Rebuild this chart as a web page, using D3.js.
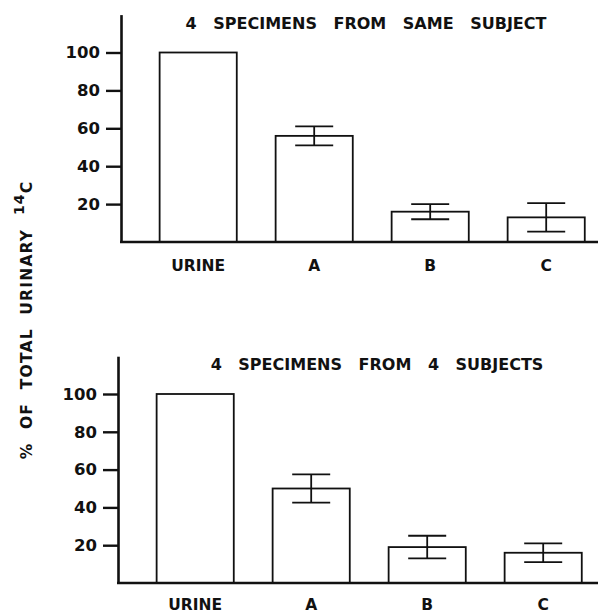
<!DOCTYPE html>
<html>
<head>
<meta charset="utf-8">
<script src="https://cdn.jsdelivr.net/npm/d3@7"></script>
<style>
  body { margin: 0; background: #fff; }
  svg text { font-family: "DejaVu Sans", sans-serif; font-weight: bold; fill: #111; }
</style>
</head>
<body>
<div id="chart"></div>
<script>
// Categories and values
const categories = ["URINE", "A", "B", "C"];
const yTicks = [20, 40, 60, 80, 100];

// Panel 1: 4 specimens from same subject
const sameMeans = [100, 56, 16, 13];
const sameErrs = [0, 5, 4, 7.5];

// Panel 2: 4 specimens from 4 subjects
const subjMeans = [100, 50, 19, 16];
const subjErrs = [0, 7.5, 6, 5];

const width = 598, height = 614;

const svg = d3.select("#chart")
  .append("svg")
    .attr("width", width)
    .attr("height", height)
    .attr("viewBox", [0, 0, width, height]);

/* Draw one panel */
const drawPanel = (opts) => {
  const { means, errs, title, left, y0, y100, titleX, titleY, labelY } = opts;

  const xScale = d3.scaleBand()
    .domain(categories)
    .range([left, left + 116 * (4 - 0.335 + 0.666)])
    .paddingInner(0.335)
    .paddingOuter(0.333);

  const yScale = d3.scaleLinear()
    .domain([0, 100])
    .range([y0, y100]);

  const g = svg.append("g");

  // bars
  g.append("g")
    .selectAll("rect")
    .data(means)
    .join("rect")
      .attr("x", (d, i) => xScale(categories[i]))
      .attr("y", d => yScale(d))
      .attr("width", xScale.bandwidth())
      .attr("height", d => yScale(0) - yScale(d))
      .attr("fill", "white")
      .attr("stroke", "#111")
      .attr("stroke-width", 1.8);

  // error bars
  const capW = 19;
  const eb = g.append("g")
    .attr("stroke", "#111")
    .attr("stroke-width", 1.8)
    .selectAll("g")
    .data(means.map((m, i) => ({ m, e: errs[i], c: categories[i] })).filter(d => d.e > 0))
    .join("g")
      .attr("transform", d => `translate(${xScale(d.c) + xScale.bandwidth() / 2},0)`);

  eb.append("line")
    .attr("y1", d => yScale(d.m - d.e))
    .attr("y2", d => yScale(d.m + d.e));
  eb.append("line")
    .attr("x1", -capW).attr("x2", capW)
    .attr("y1", d => yScale(d.m + d.e))
    .attr("y2", d => yScale(d.m + d.e));
  eb.append("line")
    .attr("x1", -capW).attr("x2", capW)
    .attr("y1", d => yScale(d.m - d.e))
    .attr("y2", d => yScale(d.m - d.e));

  // y axis (extends up to ~120)
  const yAxisScale = yScale.copy().domain([0, 120]).range([y0, yScale(120)]);
  const yAxis = d3.axisLeft(yAxisScale)
    .tickValues(yTicks)
    .tickSize(15)
    .tickSizeOuter(0)
    .tickPadding(6);

  const yg = g.append("g")
    .attr("transform", `translate(${left},0)`)
    .call(yAxis);
  yg.select(".domain").attr("stroke-width", 2.6).attr("stroke", "#111");
  yg.selectAll(".tick line").attr("stroke-width", 2.4).attr("stroke", "#111");
  yg.selectAll(".tick text")
    .attr("font-size", 16.5)
    .attr("font-family", "DejaVu Sans")
    .attr("font-weight", "bold")
    .attr("fill", "#111");

  // x axis
  const xAxis = d3.axisBottom(xScale).tickSize(0).tickPadding(0);
  const xg = g.append("g")
    .attr("transform", `translate(0,${y0})`)
    .call(xAxis);
  xg.select(".domain").attr("stroke-width", 2.6).attr("stroke", "#111")
    .attr("d", `M${left - 1},0H${width}`);
  xg.selectAll(".tick text")
    .attr("y", labelY - y0)
    .attr("dy", 0)
    .attr("font-size", 15.5)
    .attr("font-family", "DejaVu Sans")
    .attr("font-weight", "bold")
    .attr("fill", "#111");

  // title
  g.append("text")
    .attr("x", titleX)
    .attr("y", titleY)
    .attr("text-anchor", "middle")
    .attr("font-size", 16)
    .attr("word-spacing", 11)
    .text(title);
};

drawPanel({
  means: sameMeans, errs: sameErrs,
  title: "4 SPECIMENS FROM SAME SUBJECT",
  left: 121, y0: 242, y100: 52.5,
  titleX: 366, titleY: 29, labelY: 271
});

drawPanel({
  means: subjMeans, errs: subjErrs,
  title: "4 SPECIMENS FROM 4 SUBJECTS",
  left: 118, y0: 583, y100: 394,
  titleX: 377, titleY: 370, labelY: 610
});

// shared y label
const yl = svg.append("text")
  .attr("transform", "translate(32,320) rotate(-90)")
  .attr("text-anchor", "middle")
  .attr("font-size", 15.5)
  .attr("letter-spacing", 1.2)
  .attr("word-spacing", 7);
yl.append("tspan").text("% OF TOTAL URINARY ");
yl.append("tspan").attr("dy", -8).attr("font-size", 14).text("14");
yl.append("tspan").attr("dy", 8).text("C");
</script>
</body>
</html>
